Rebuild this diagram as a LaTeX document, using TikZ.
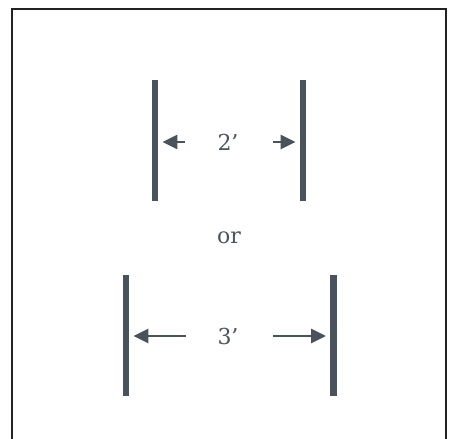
\documentclass[tikz,border=0pt]{standalone}
\usepackage{fontspec}
\setmainfont{DejaVu Serif}
\usetikzlibrary{arrows.meta, positioning}
\definecolor{slate}{HTML}{4A525C}
\definecolor{frame}{HTML}{222222}
\begin{document}
\begin{tikzpicture}[x=1pt, y=-1pt,
    bar/.style={fill=slate, inner sep=0pt, minimum width=6.5pt, minimum height=121pt},
    dim/.style={draw=slate, line width=2.8pt, -{Triangle[length=15pt, width=14pt]}, shorten >=4pt},
    lbl/.style={text=slate, font=\fontsize{22}{26}\selectfont, inner sep=0pt}]
\useasboundingbox (0,0) rectangle (453,439);
\draw[frame, line width=2pt] (12,9) rectangle (446,450);
% upper pair
\node[bar] (lt) at (155,140) {};
\node[bar] (rt) at (303,140) {};
\node[lbl] (two) at (228,142) {2’};
\coordinate (t1) at (185,142);
\coordinate (t2) at (273,142);
\draw[dim] (t1) -- (lt.east |- t1);
\draw[dim] (t2) -- (rt.west |- t2);
\node[lbl] (or) at (229,238) {or};
% lower pair
\node[bar] (lb) at (126,335.5) {};
\node[bar] (rb) at (333.5,335.5) {};
\node[lbl] (three) at (228,336) {3’};
\coordinate (b1) at (186,336);
\coordinate (b2) at (273,336);
\draw[dim] (b1) -- (lb.east |- b1);
\draw[dim] (b2) -- (rb.west |- b2);
\end{tikzpicture}
\end{document}
